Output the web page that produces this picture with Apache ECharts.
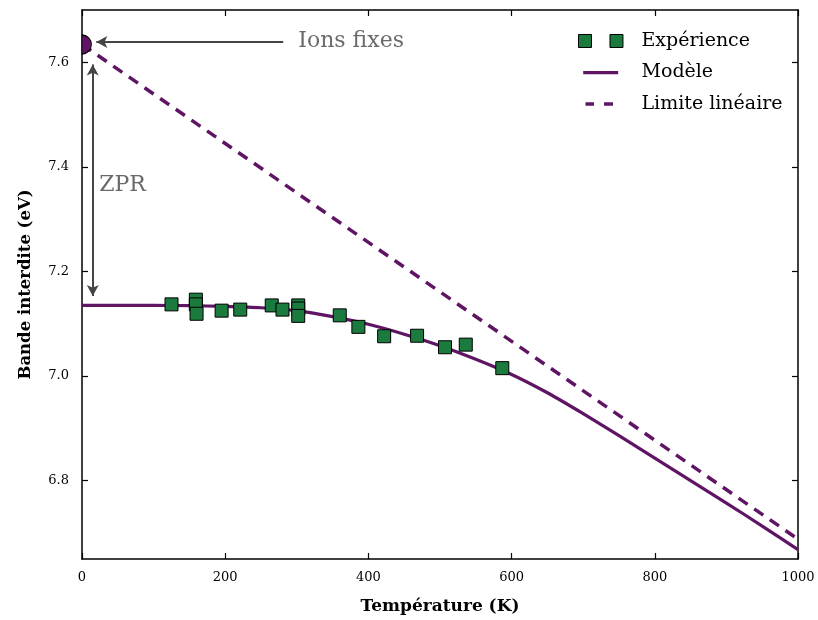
<!DOCTYPE html>
<html><head><meta charset="utf-8">
<script src="https://cdn.jsdelivr.net/npm/echarts@6/dist/echarts.min.js"></script>
<style>html,body{margin:0;padding:0;background:#fff}#c{width:818px;height:620px}</style>
</head><body><div id="c"></div>
<script>
// ---- data ----
const expT = [125, 159, 159, 160, 195, 221, 265, 280, 302, 302, 302, 360, 386, 422, 468, 507, 536, 587];
const expE = [7.137, 7.146, 7.137, 7.119, 7.125, 7.127, 7.135, 7.127, 7.135, 7.129, 7.115, 7.116, 7.094, 7.076, 7.077, 7.055, 7.060, 7.015];
const modelT = [0, 100, 150, 200, 250, 300, 350, 400, 450, 500, 550, 600, 650, 700, 750, 800, 850, 900, 950, 1000];
const modelE = [7.135, 7.135, 7.1345, 7.133, 7.1305, 7.125, 7.1135, 7.099, 7.080, 7.058, 7.032, 7.003, 6.968, 6.928, 6.886, 6.843, 6.800, 6.757, 6.713, 6.668];
const linearT = [0, 1000];
const linearE = [7.634, 6.688];
const fixedIonsT = [0];
const fixedIonsE = [7.634];
const xTicks = [0, 200, 400, 600, 800, 1000];
const yTicks = [6.8, 7.0, 7.2, 7.4, 7.6];
const seriesNames = ['Expérience', 'Modèle', 'Limite linéaire'];
const annotTexts = ['Ions fixes', 'ZPR'];

// ---- styles ----
const FONT = 'DejaVu Serif';
const GREEN = '#1b7a3d';
const PURPLE = '#5f1464';
const GREY = '#454545';

const zip = (a, b) => a.map((v, i) => [v, b[i]]);
// legend icons: tiny corner specks fix the icon box to 58x14
const BOX = 'M0,0h0.01v0.01h-0.01z M58,14h0.01v0.01h-0.01z ';
const ICON_EXP = 'path://' + BOX + 'M0,0.5h13v13h-13z M31.5,0.5h13v13h-13z';
const ICON_MODEL = 'path://' + BOX + 'M4.7,5.5h35v3.2h-35z';
const ICON_LIN = 'path://' + BOX + 'M7,5.3h8.5v3.5h-8.5z M25.5,5.3h9v3.5h-9z';

const chart = echarts.init(document.getElementById('c'), null, {renderer: 'canvas'});

const axisCommon = {
  axisLine: {show: true, onZero: false, lineStyle: {color: '#000', width: 1.5}},
  axisTick: {show: true, inside: true, length: 6, lineStyle: {color: '#000', width: 1.2}},
  splitLine: {show: false}
};

const option = {
  animation: false,
  backgroundColor: '#fff',
  textStyle: {fontFamily: FONT},
  grid: {left: 82, right: 20, top: 10, bottom: 60, containLabel: false},
  xAxis: [
    Object.assign({}, axisCommon, {
      type: 'value', position: 'bottom', min: xTicks[0], max: xTicks[xTicks.length - 1], interval: 200,
      name: 'Température (K)', nameLocation: 'middle', nameGap: 39,
      nameTextStyle: {fontFamily: FONT, fontSize: 17, fontWeight: 'bold', color: '#000'},
      axisLabel: {show: true, margin: 12, fontFamily: FONT, fontSize: 13, color: '#000', formatter: v => String(v)}
    }),
    Object.assign({}, axisCommon, {
      type: 'value', position: 'top', min: xTicks[0], max: xTicks[xTicks.length - 1], interval: 200,
      axisLabel: {show: false}
    })
  ],
  yAxis: [
    Object.assign({}, axisCommon, {
      type: 'value', position: 'left', min: 6.65, max: 7.70,
      name: 'Bande interdite (eV)', nameLocation: 'middle', nameGap: 48,
      nameTextStyle: {fontFamily: FONT, fontSize: 16.5, fontWeight: 'bold', color: '#000'},
      axisLabel: {show: true, margin: 13, fontFamily: FONT, fontSize: 13, color: '#000',
        customValues: yTicks, formatter: v => Number(v).toFixed(1)},
      axisTick: Object.assign({}, axisCommon.axisTick, {customValues: yTicks})
    }),
    Object.assign({}, axisCommon, {
      type: 'value', position: 'right', min: 6.65, max: 7.70,
      axisLabel: {show: false, customValues: yTicks},
      axisTick: Object.assign({}, axisCommon.axisTick, {customValues: yTicks})
    })
  ],
  legend: {
    data: [
      {name: seriesNames[0], icon: ICON_EXP, itemStyle: {color: GREEN, borderColor: '#000', borderWidth: 1}},
      {name: seriesNames[1], icon: ICON_MODEL, itemStyle: {color: PURPLE, borderWidth: 0}},
      {name: seriesNames[2], icon: ICON_LIN, itemStyle: {color: PURPLE, borderWidth: 0}}
    ],
    orient: 'vertical', left: 578, top: 31, align: 'left', padding: 0,
    itemWidth: 58, itemHeight: 14, itemGap: 11.5,
    textStyle: {fontFamily: FONT, fontSize: 19, color: '#000', lineHeight: 20},
    selectedMode: false
  },
  series: [
    {
      name: seriesNames[2], type: 'line', data: zip(linearT, linearE),
      showSymbol: false, symbol: 'none', z: 2,
      lineStyle: {color: PURPLE, width: 3.5, type: [11, 8]},
      itemStyle: {color: PURPLE}
    },
    {
      name: seriesNames[1], type: 'line', data: zip(modelT, modelE),
      showSymbol: false, symbol: 'none', smooth: 0.25, z: 3,
      lineStyle: {color: PURPLE, width: 3.2},
      itemStyle: {color: PURPLE}
    },
    {
      name: seriesNames[0], type: 'scatter', data: zip(expT, expE),
      symbol: 'rect', symbolSize: 13, z: 5,
      itemStyle: {color: GREEN, borderColor: '#000', borderWidth: 1, opacity: 1}
    },
    {
      name: 'fixed', type: 'scatter', data: zip(fixedIonsT, fixedIonsE),
      symbol: 'path://M0,0A10,10,0,0,1,0,20Z', symbolSize: [9.5, 19], symbolOffset: [4.75, 0], z: 6,
      itemStyle: {color: PURPLE, borderColor: '#000', borderWidth: 1, opacity: 1}
    },
    {
      name: 'annot', type: 'scatter', z: 7, symbolSize: 0, silent: true,
      data: [
        {value: [302, 7.641], label: {show: true, formatter: annotTexts[0], position: 'right', distance: 0}},
        {value: [24, 7.364], label: {show: true, formatter: annotTexts[1], position: 'right', distance: 0}}
      ],
      label: {fontFamily: FONT, fontSize: 22, color: GREY},
      markLine: {
        silent: true, animation: false, precision: 4,
        label: {show: false},
        lineStyle: {color: GREY, width: 2, type: 'solid'},
        symbolSize: [9, 11],
        data: [
          [{coord: [281, 7.639], symbol: 'none'}, {coord: [20, 7.639], symbol: 'arrow'}],
          [{coord: [15, 7.596], symbol: 'arrow'}, {coord: [15, 7.153], symbol: 'arrow'}]
        ]
      }
    }
  ]
};
chart.setOption(option);
</script>
</body></html>
